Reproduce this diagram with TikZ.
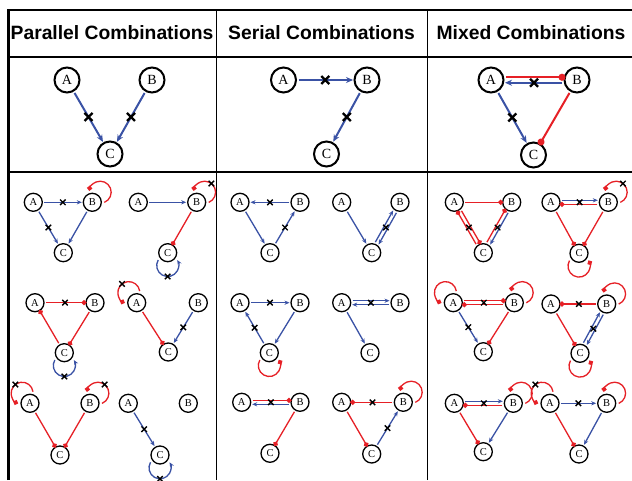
\documentclass[tikz,border=0pt]{standalone}
\usepackage{fontspec}
\setmainfont{Liberation Serif}
\newfontfamily\hdr{Liberation Sans}
\usetikzlibrary{arrows.meta,calc}
\definecolor{eb}{RGB}{58,82,165}
\definecolor{er}{RGB}{230,32,38}
\tikzset{
 sm/.style={circle, draw, line width=1.3pt, minimum size=18pt, inner sep=0pt, font=\fontsize{10.5}{12}\selectfont},
 bg/.style={circle, draw, line width=2pt, minimum size=25pt, inner sep=0pt, font=\fontsize{14}{16}\selectfont},
 ba/.style={eb, line width=1.3pt, -{Stealth[length=5pt,width=4.2pt]}, shorten <=11pt, shorten >=10.5pt},
 rd/.style={er, line width=1.3pt, -{Circle[length=5pt]}, shorten <=11pt, shorten >=8.5pt},
 BA/.style={eb, line width=2pt, -{Stealth[length=7pt,width=6pt]}, shorten <=15pt, shorten >=14pt},
 RD/.style={er, line width=2pt, -{Circle[length=7pt]}, shorten <=15pt, shorten >=11.5pt},
 bl/.style={eb, line width=1.3pt, -{Stealth[length=5pt,width=4.2pt]}},
 rl/.style={er, line width=1.3pt, -{Circle[length=5pt]}},
 xl/.style={black, line width=1.4pt},
 XL/.style={black, line width=2.2pt},
 gridline/.style={black, line width=1.3pt},
 hd/.style={font=\hdr\bfseries\fontsize{19.3}{22}\selectfont, anchor=base, inner sep=0pt},
}
\newcommand\tri[7]{\node[sm] (#1A) at (#2,#3) {A}; \node[sm] (#1B) at (#4,#5) {B}; \node[sm] (#1C) at (#6,#7) {C};}
\newcommand\btri[7]{\node[bg] (#1A) at (#2,#3) {A}; \node[bg] (#1B) at (#4,#5) {B}; \node[bg] (#1C) at (#6,#7) {C};}
\newcommand\ed[4][]{\draw[#1] ($(#2)!#4!90:(#3)$) -- ($(#3)!#4!-90:(#2)$);}
\newcommand\lp[3]{\pgfmathsetmacro\lpa{#3-120}\pgfmathsetmacro\lpb{#3+120}%
 \draw[#1] ($(#2)+(#3:12.8)+(\lpa:11)$) arc[start angle=\lpa, end angle=\lpb, radius=11];}
\newcommand\xm[2]{\draw[xl] ($(#1)!.5!(#2)$) +(-2.75,-2.75) -- +(2.75,2.75) +(-2.75,2.75) -- +(2.75,-2.75);}
\newcommand\xo[2]{\draw[xl] ($(#1)+(#2:23.8)$) +(-2.75,-2.75) -- +(2.75,2.75) +(-2.75,2.75) -- +(2.75,-2.75);}
\newcommand\XM[3][0]{\draw[XL] ($(#2)!.5!(#3)+(0,#1)$) +(-4,-4) -- +(4,4) +(-4,4) -- +(4,-4);}
\begin{document}
\begin{tikzpicture}[x=1pt,y=1pt]
\useasboundingbox (0,0) rectangle (632,480);
\fill[white] (0,0) rectangle (632,480);
% table
\draw[black, line width=2.6pt] (8.5,0) -- (8.5,471);
\draw[black, line width=2pt] (7.5,470) -- (632,470);
\draw[gridline] (8.5,423) -- (632,423);
\draw[black, line width=1.8pt] (8.5,308) -- (632,308);
\draw[gridline] (216.5,0) -- (216.5,470);
\draw[gridline] (427.5,0) -- (427.5,470);
% headers
\node[hd] (h1) at (112,440) {Parallel Combinations};
\node[hd] (h2) at (321.5,440) {Serial Combinations};
\node[hd] (h3) at (531,440) {Mixed Combinations};
% top row
\btri{tp}{67}{400}{152}{400}{110}{326}
\ed[BA]{tpA}{tpC}{0pt} \XM{tpA}{tpC}
\ed[BA]{tpB}{tpC}{0pt} \XM{tpB}{tpC}
\btri{ts}{283.5}{400}{367}{400}{326.5}{326}
\ed[BA]{tsA}{tsB}{0pt} \XM{tsA}{tsB}
\ed[BA]{tsB}{tsC}{0pt} \XM{tsB}{tsC}
\btri{tm}{491}{400}{577}{400}{533.5}{325}
\ed[RD]{tmA}{tmB}{2.75pt}
\ed[BA]{tmB}{tmA}{2.75pt} \XM[-2.75]{tmA}{tmB}
\ed[BA]{tmA}{tmC}{0pt} \XM{tmA}{tmC}
\ed[RD]{tmB}{tmC}{0pt}
% parallel column
\tri{p11}{33.3}{277.7}{92.3}{277.7}{63.3}{227.3}
\ed[ba]{p11A}{p11B}{0pt} \xm{p11A}{p11B}
\ed[ba]{p11A}{p11C}{0pt} \xm{p11A}{p11C}
\ed[ba]{p11B}{p11C}{0pt}
\lp{rl}{p11B}{52}
\tri{p12}{138.3}{277.7}{196.7}{277.7}{167.7}{227.3}
\ed[ba]{p12A}{p12B}{0pt}
\ed[rd]{p12B}{p12C}{0pt}
\lp{rl}{p12B}{52} \xo{p12B}{52}
\lp{bl}{p12C}{270} \xo{p12C}{270}
\tri{p21}{35}{177.3}{95}{177.3}{64.3}{127.3}
\ed[rd]{p21A}{p21B}{0pt} \xm{p21A}{p21B}
\ed[rd]{p21C}{p21A}{0pt}
\ed[rd]{p21B}{p21C}{0pt}
\lp{bl}{p21C}{270} \xo{p21C}{270}
\tri{p22}{136.7}{177.3}{198.3}{177.3}{168.3}{128}
\ed[rd]{p22A}{p22C}{0pt}
\ed[ba]{p22B}{p22C}{0pt} \xm{p22B}{p22C}
\lp{rl}{p22A}{128} \xo{p22A}{128}
\tri{p31}{30}{76.7}{90}{76.7}{60}{25}
\ed[rd]{p31A}{p31C}{0pt}
\ed[rd]{p31B}{p31C}{0pt}
\lp{rl}{p31A}{128} \xo{p31A}{128}
\lp{rl}{p31B}{52} \xo{p31B}{52}
\tri{p32}{128.3}{76.7}{188.3}{76.7}{160}{25}
\ed[ba]{p32A}{p32C}{0pt} \xm{p32A}{p32C}
\lp{bl}{p32C}{270} \xo{p32C}{270}
% serial column
\tri{s11}{240}{277.7}{300}{277.7}{270}{227.3}
\ed[ba]{s11B}{s11A}{0pt} \xm{s11A}{s11B}
\ed[ba]{s11A}{s11C}{0pt}
\ed[ba]{s11C}{s11B}{0pt} \xm{s11C}{s11B}
\tri{s12}{341.7}{277.7}{400}{277.7}{371.7}{227.3}
\ed[ba]{s12A}{s12C}{0pt}
\ed[ba]{s12B}{s12C}{2pt}
\ed[ba]{s12C}{s12B}{2pt} \xm{s12B}{s12C}
\tri{s21}{240}{177.3}{300}{177.3}{269.3}{127.3}
\ed[ba]{s21A}{s21B}{0pt} \xm{s21A}{s21B}
\ed[ba]{s21B}{s21C}{0pt}
\ed[ba]{s21C}{s21A}{0pt} \xm{s21C}{s21A}
\lp{rl}{s21C}{270}
\tri{s22}{341.7}{177.3}{400}{177.3}{370}{127.3}
\ed[ba]{s22A}{s22B}{2pt}
\ed[ba]{s22B}{s22A}{2pt} \xm{s22A}{s22B}
\ed[ba]{s22A}{s22C}{0pt}
\tri{s31}{241.7}{77.7}{300}{77.7}{270}{26.7}
\ed[rd]{s31A}{s31B}{2pt}
\ed[ba]{s31B}{s31A}{2pt} \xm{s31A}{s31B}
\ed[rd]{s31B}{s31C}{0pt}
\tri{s32}{341.7}{77.7}{403.3}{77.7}{371.7}{26}
\ed[rd]{s32B}{s32A}{0pt} \xm{s32A}{s32B}
\ed[rd]{s32A}{s32C}{0pt}
\ed[ba]{s32C}{s32B}{0pt} \xm{s32C}{s32B}
\lp{rl}{s32B}{52}
% mixed column
\tri{m11}{454.3}{277.7}{511.7}{277.7}{483.3}{227.3}
\ed[rd]{m11A}{m11B}{0pt}
\ed[rd]{m11C}{m11A}{2pt}
\ed[rd]{m11A}{m11C}{2pt} \xm{m11A}{m11C}
\ed[rd]{m11C}{m11B}{2pt}
\ed[ba]{m11B}{m11C}{2pt} \xm{m11B}{m11C}
\tri{m12}{551}{277.7}{608.3}{277.7}{579}{226.7}
\ed[ba]{m12A}{m12B}{2pt}
\ed[rd]{m12B}{m12A}{2pt} \xm{m12A}{m12B}
\ed[rd]{m12A}{m12C}{0pt}
\ed[rd]{m12B}{m12C}{0pt}
\lp{rl}{m12B}{52} \xo{m12B}{52}
\lp{rl}{m12C}{270}
\tri{m21}{453.3}{177.3}{514.3}{177.3}{483.3}{128.3}
\ed[rd]{m21A}{m21B}{2pt}
\ed[rd]{m21B}{m21A}{2pt} \xm{m21A}{m21B}
\ed[ba]{m21A}{m21C}{0pt} \xm{m21A}{m21C}
\ed[rd]{m21B}{m21C}{0pt}
\lp{rl}{m21A}{128}
\lp{rl}{m21B}{52}
\tri{m22}{551}{176}{606.7}{176}{580}{126.7}
\ed[rd]{m22B}{m22A}{0pt} \xm{m22A}{m22B}
\ed[rd]{m22A}{m22C}{0pt}
\ed[ba]{m22B}{m22C}{2pt}
\ed[ba]{m22C}{m22B}{2pt} \xm{m22B}{m22C}
\lp{rl}{m22B}{52}
\lp{rl}{m22C}{270}
\tri{m31}{454.3}{76.7}{513.3}{76.7}{483.3}{28.3}
\ed[ba]{m31A}{m31B}{2pt}
\ed[rd]{m31B}{m31A}{2pt} \xm{m31A}{m31B}
\ed[rd]{m31A}{m31C}{0pt}
\ed[ba]{m31B}{m31C}{0pt}
\lp{rl}{m31B}{52}
\tri{m32}{550}{76.7}{606.7}{76.7}{579}{26}
\ed[ba]{m32A}{m32B}{0pt} \xm{m32A}{m32B}
\ed[rd]{m32A}{m32C}{0pt}
\ed[ba]{m32B}{m32C}{0pt}
\lp{rl}{m32B}{52}
\lp{rl}{m32A}{128} \xo{m32A}{128}
\end{tikzpicture}
\end{document}
